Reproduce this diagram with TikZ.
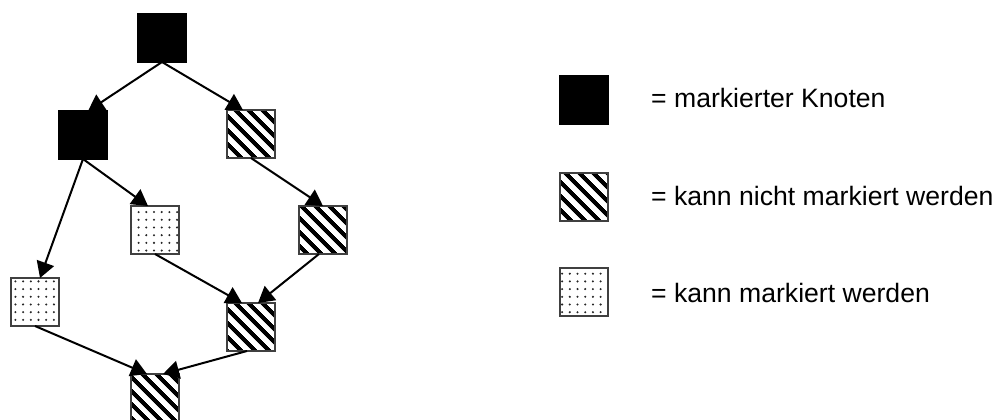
\documentclass[tikz,border=0pt]{standalone}
\usepackage{fontspec}
\setmainfont{Liberation Sans}
\usetikzlibrary{patterns.meta,arrows.meta}
\begin{document}
\begin{tikzpicture}[x=1pt,y=-1pt,
  box/.style={draw=black!75,line width=2pt,minimum size=48pt,inner sep=0pt,outer sep=0pt},
  marked/.style={box,fill=black,draw=black},
  hatch/.style={box,pattern={Lines[angle=-45,distance=10.5pt,line width=4.5pt]}},
  dots/.style={box,pattern={Dots[distance=7.7pt,radius=1.15pt]},pattern color=black!85},
  conn/.style={line width=2pt,-{Triangle[length=16pt,width=18pt]}},
  lbl/.style={anchor=base west,inner sep=0pt,font=\fontsize{26.6}{31}\selectfont}]
\useasboundingbox (0,0) rectangle (997,420);
% graph
\node[marked] (n1) at (162,38) {};
\node[marked] (n2) at (83,135) {};
\node[hatch] (n3) at (251,134) {};
\node[dots] (n4) at (155,230) {};
\node[hatch] (n5) at (323,230) {};
\node[dots] (n6) at (35,302) {};
\node[hatch] (n7) at (251,327) {};
\node[hatch] (n8) at (155,398) {};
\draw[conn] (n1.south) -- ([xshift=5pt]n2.north);
\draw[conn] (n1.south) -- ([xshift=-8pt]n3.north);
\draw[conn] (n2.south) -- ([xshift=5pt]n6.north);
\draw[conn] (n2.south) -- ([xshift=-7pt]n4.north);
\draw[conn] (n3.south) -- (n5.north);
\draw[conn] (n4.south) -- ([xshift=-9pt]n7.north);
\draw[conn] ([xshift=-4pt]n5.south) -- ([xshift=7pt]n7.north);
\draw[conn] (n6.south) -- ([xshift=-8pt]n8.north);
\draw[conn] ([xshift=-4pt]n7.south) -- ([xshift=8pt]n8.north);
% legend
\node[marked] (l1) at (584,100) {};
\node[hatch] (l2) at (584,197) {};
\node[dots] (l3) at (584,292) {};
\node[lbl] (t1) at (651,108) {= markierter Knoten};
\node[lbl] (t2) at (651,205) {= kann nicht markiert werden};
\node[lbl] (t3) at (651,302) {= kann markiert werden};
\end{tikzpicture}
\end{document}
